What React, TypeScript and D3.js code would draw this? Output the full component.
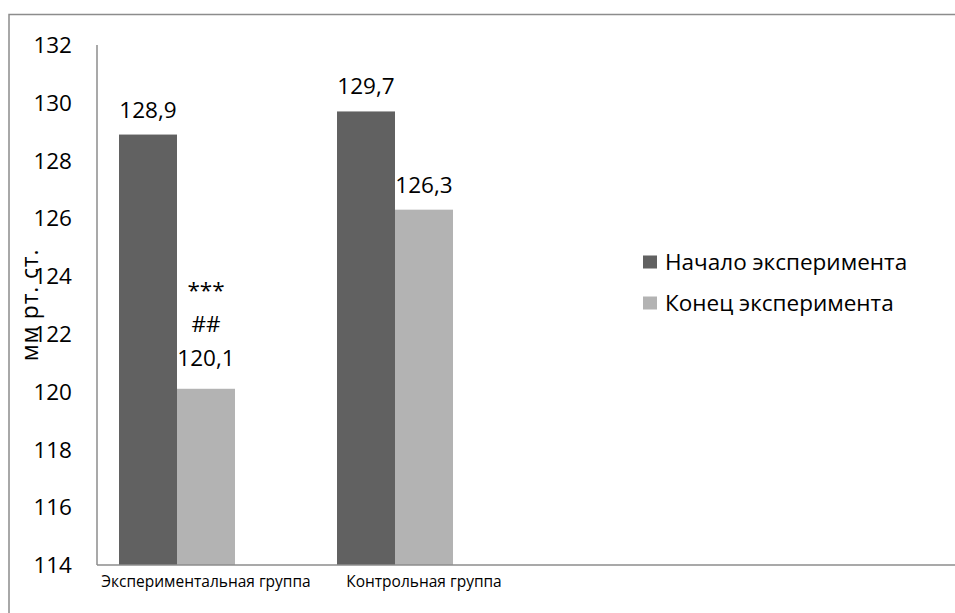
import React from "react";
import * as d3 from "d3";

// Chart data
const categories = ["Экспериментальная группа", "Контрольная группа"];
const seriesNames = ["Начало эксперимента", "Конец эксперимента"];
const startValues = [128.9, 129.7];
const endValues = [120.1, 126.3];
// Significance marks printed above each "end" bar
const endMarks = [["***", "##"], []];
const yTicks = [114, 116, 118, 120, 122, 124, 126, 128, 130, 132];
const yTitle = "мм рт. ст.";

const W = 955;
const H = 613;
const FONT = "'Open Sans', 'Noto Sans', sans-serif";
const COLORS = ["#616161", "#b3b3b3"];
const AXIS = "#8c8c8c";
const LABEL_SIZE = 22.5;

const fmt = (v: number) => v.toFixed(1).replace(".", ",");

export default function App() {
  const plotLeft = 97;
  const plotTop = 45;
  const plotBottom = 565;

  const y = d3.scaleLinear().domain([114, 132]).range([plotBottom, plotTop]);

  const x0 = d3
    .scaleBand<string>()
    .domain(categories)
    .range([68, 504])
    .paddingInner(0.468)
    .paddingOuter(0.234);

  const x1 = d3
    .scaleBand<string>()
    .domain(seriesNames)
    .range([0, x0.bandwidth()]);

  const rows = categories.map((c, i) => ({
    category: c,
    values: [
      { series: seriesNames[0], value: startValues[i], marks: [] as string[] },
      { series: seriesNames[1], value: endValues[i], marks: endMarks[i] },
    ],
  }));

  return (
    <svg
      width={W}
      height={H}
      style={{ position: "absolute", left: 0, top: 0, background: "#fff" }}
      fontFamily={FONT}
    >
      {/* chart frame */}
      <rect x={9} y={14.5} width={W + 20} height={H + 20} fill="none" stroke={AXIS} strokeWidth={1.5} />

      {/* bars */}
      {rows.map((r) =>
        r.values.map((d, j) => {
          const bx = (x0(r.category) ?? 0) + (x1(d.series) ?? 0);
          const by = y(d.value);
          return (
            <rect
              key={r.category + d.series}
              x={bx}
              y={by}
              width={x1.bandwidth()}
              height={plotBottom - by}
              fill={COLORS[j]}
            />
          );
        })
      )}

      {/* axes */}
      <line x1={plotLeft} x2={plotLeft} y1={plotTop} y2={plotBottom} stroke={AXIS} strokeWidth={1.5} />
      <line x1={plotLeft} x2={W + 5} y1={plotBottom} y2={plotBottom} stroke={AXIS} strokeWidth={1.5} />

      {/* y tick labels */}
      {yTicks.map((t) => (
        <text key={t} x={72} y={y(t)} dy="0.36em" textAnchor="end" fontSize={LABEL_SIZE} fill="#000">
          {t}
        </text>
      ))}

      {/* y axis title */}
      <text
        transform={`translate(38,${305}) rotate(-90)`}
        textAnchor="middle"
        fontSize={23}
        letterSpacing={0.8}
        fill="#000"
      >
        {yTitle}
      </text>

      {/* category labels */}
      {categories.map((c) => (
        <text
          key={c}
          x={(x0(c) ?? 0) + x0.bandwidth() * 0.75}
          y={587}
          textAnchor="middle"
          fontSize={15.5}
          fill="#000"
        >
          {c}
        </text>
      ))}

      {/* value labels */}
      {rows.map((r) =>
        r.values.map((d) => {
          const cx = (x0(r.category) ?? 0) + (x1(d.series) ?? 0) + x1.bandwidth() / 2;
          const lines = [...d.marks, fmt(d.value)];
          const base = y(d.value) - (lines.length > 1 ? 23 : 17);
          return lines.map((ln, k) => (
            <text
              key={r.category + d.series + k}
              x={cx}
              y={base - (lines.length - 1 - k) * 34}
              textAnchor="middle"
              fontSize={LABEL_SIZE}
              fill="#000"
            >
              {ln}
            </text>
          ));
        })
      )}

      {/* legend */}
      {seriesNames.map((s, i) => (
        <g key={s} transform={`translate(643,${262 + i * 41})`}>
          <rect x={0} y={-6.5} width={14} height={13} fill={COLORS[i]} />
          <text x={22} y={0} dy="0.36em" fontSize={LABEL_SIZE} fill="#000">
            {s}
          </text>
        </g>
      ))}
    </svg>
  );
}
